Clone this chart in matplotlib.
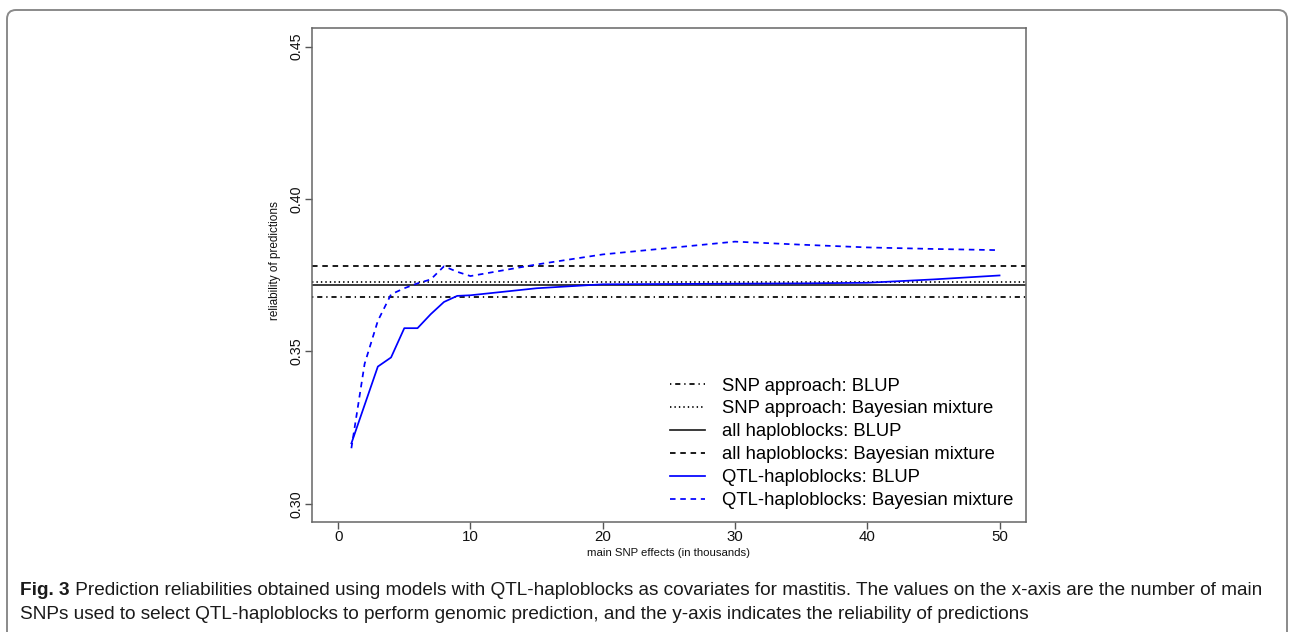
import matplotlib
matplotlib.use('Agg')
import matplotlib.pyplot as plt
from matplotlib.patches import FancyBboxPatch
from matplotlib.transforms import IdentityTransform

# ── Data ─────────────────────────────────────────────────────
n_main_snps = [1, 2, 3, 4, 5, 6, 7, 8, 9, 10, 15, 20, 25, 30, 35, 40, 45, 50]
qtl_blup = [0.3198, 0.3324, 0.3450, 0.3480, 0.3576, 0.3576, 0.3622, 0.3662, 0.3682,
            0.3684, 0.3707, 0.3720, 0.3721, 0.3722, 0.3723, 0.3725, 0.3736, 0.3749]
qtl_bayes = [0.3182, 0.3459, 0.3600, 0.3687, 0.3707, 0.3723, 0.3736, 0.3779, 0.3761,
             0.3747, 0.3785, 0.3818, 0.3839, 0.3860, 0.3850, 0.3841, 0.3836, 0.3832]
snp_blup = 0.3679
snp_bayes = 0.3727
all_blup = 0.3718
all_bayes = 0.3779

legend_labels = ["SNP approach: BLUP", "SNP approach: Bayesian mixture",
                 "all haploblocks: BLUP", "all haploblocks: Bayesian mixture",
                 "QTL-haploblocks: BLUP", "QTL-haploblocks: Bayesian mixture"]
caption_bold = "Fig. 3"
caption_1 = (" Prediction reliabilities obtained using models with QTL-haploblocks as covariates "
             "for mastitis. The values on the x-axis are the number of main")
caption_2 = ("SNPs used to select QTL-haploblocks to perform genomic prediction, and the y-axis "
             "indicates the reliability of predictions")

# ── Style ────────────────────────────────────────────────────
plt.rcParams['font.family'] = ['Liberation Sans', 'DejaVu Sans']
plt.rcParams['lines.scale_dashes'] = False

W, H = 1290, 632
fig = plt.figure(figsize=(W / 100, H / 100), dpi=100)
ax = fig.add_axes([311.7 / W, 1 - 522 / H, (1026 - 311.7) / W, (522 - 28.3) / H])

DASHDOT = (0, (0.95, 2.8, 3.7, 2.8))
DOTTED = (0, (1.0, 2.2))
DASHED = (0, (4.0, 3.4))
lw = 1.25

h1 = ax.axhline(snp_blup, color='black', lw=lw, ls=DASHDOT)
h2 = ax.axhline(snp_bayes, color='black', lw=lw, ls=DOTTED)
h3 = ax.axhline(all_blup, color='#222222', lw=lw, ls='-')
h4 = ax.axhline(all_bayes, color='black', lw=lw, ls=DASHED)
h5, = ax.plot(n_main_snps, qtl_blup, color='#0000ff', lw=lw, ls='-')
h6, = ax.plot(n_main_snps, qtl_bayes, color='#0000ff', lw=lw, ls=DASHED)

ax.set_xlim(-2, 52)
ax.set_ylim(0.294, 0.456)
ax.set_xticks([0, 10, 20, 30, 40, 50])
ax.set_yticks([0.30, 0.35, 0.40, 0.45])
ax.set_yticklabels(["0.30", "0.35", "0.40", "0.45"], rotation=90, va='center')
ax.tick_params(axis='both', length=5, width=1, color='#555555', labelcolor='#111111')
ax.tick_params(axis='x', labelsize=10.8, pad=1.0)
ax.tick_params(axis='y', labelsize=10.3, pad=1.0)
for sp in ax.spines.values():
    sp.set_color('#666666')
    sp.set_linewidth(1.1)

ax.set_xlabel("main SNP effects (in thousands)", fontsize=8.2, color='#111111')
ax.set_ylabel("reliability of predictions", fontsize=8.5, color='#111111')
ax.xaxis.set_label_coords(0.5, -(548 - 522) / (522 - 28.3))
ax.yaxis.set_label_coords((281 - 311.7) / (1026 - 311.7), (522 - 261) / (522 - 28.3))

ax.legend([h1, h2, h3, h4, h5, h6], legend_labels, loc='lower right',
          bbox_to_anchor=(1.0, 0.0), frameon=False, fontsize=13.3,
          handlelength=1.9, handletextpad=0.9, labelspacing=0.32,
          borderaxespad=0.0, borderpad=0.7)

# ── Frame + caption ─────────────────────────────────────────
frame = FancyBboxPatch((7, -30), 1280, H - 10 + 30, boxstyle="round,pad=0,rounding_size=9",
                       transform=IdentityTransform(), fill=False, ec='#8a8a8a', lw=1.4)
fig.patches.append(frame)

cap_font = ['Liberation Sans', 'DejaVu Sans']
fs = 12
t_bold = fig.text(20 / W, 1 - 595 / H, caption_bold, fontsize=fs, fontweight='bold',
                  family=cap_font, va='baseline', color='#1a1a1a')
t_rest = fig.text(0, 1 - 595 / H, caption_1, fontsize=fs, family=cap_font,
                  va='baseline', color='#1a1a1a')
t_line2 = fig.text(20 / W, 1 - 619 / H, caption_2, fontsize=fs, family=cap_font,
                   va='baseline', color='#1a1a1a')

# fit caption line 1 to the frame width
fig.canvas.draw()
r = fig.canvas.get_renderer()
total = t_bold.get_window_extent(r).width + t_rest.get_window_extent(r).width
fs = fs * (1270 - 20) / total
for t in (t_bold, t_rest, t_line2):
    t.set_fontsize(fs)
fig.canvas.draw()
bw = t_bold.get_window_extent(r).width
t_rest.set_x((20 + bw) / W)

fig.savefig("out.png", dpi=100)
